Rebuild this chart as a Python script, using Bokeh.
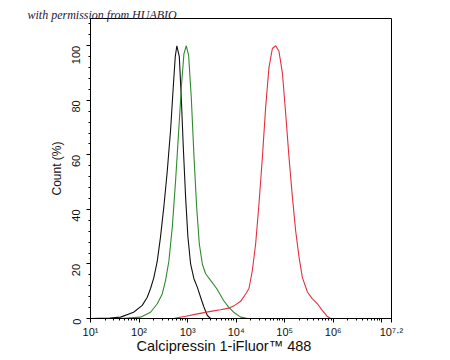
import math
from bokeh.plotting import figure
from bokeh.models import FixedTicker, Range1d, Title
from bokeh.embed import file_html
from bokeh.resources import INLINE

# x values are log10(fluorescence intensity); y values are Count (%)
black_x = [1.0, 1.40, 1.619, 1.887, 2.066, 2.169, 2.237, 2.305, 2.375, 2.443, 2.511, 2.581,
           2.649, 2.705, 2.746, 2.779, 2.829, 2.870, 2.911, 2.959, 3.006, 3.062, 3.130,
           3.200, 3.268, 3.336, 3.406, 3.474]
black_y = [0.0, 0.2, 0.5, 2.3, 4.8, 7.8, 11.0, 15.0, 21.0, 30.0, 41.0, 54.0,
           69.0, 85.0, 96.0, 100.0, 96.0, 81.0, 63.0, 44.5, 30.0, 20.0, 14.6,
           11.5, 7.8, 4.2, 1.1, 0.0]

green_x = [1.619, 2.031, 2.237, 2.375, 2.478, 2.546, 2.614, 2.685, 2.753, 2.821, 2.876,
           2.924, 2.973, 3.021, 3.076, 3.130, 3.186, 3.241, 3.303, 3.371, 3.474, 3.598,
           3.742, 3.845, 3.948, 4.093, 4.237]
green_y = [0.0, 0.5, 2.3, 5.4, 9.0, 14.0, 21.0, 33.5, 50.6, 70.0, 86.0,
           97.0, 100.0, 96.5, 81.0, 60.0, 41.0, 27.4, 20.0, 16.4, 14.0, 11.0,
           6.6, 4.2, 2.3, 0.5, 0.0]

red_x = [2.711, 2.959, 3.206, 3.474, 3.680, 3.845, 3.969, 4.093, 4.196, 4.264, 4.334,
         4.402, 4.470, 4.540, 4.608, 4.676, 4.746, 4.814, 4.882, 4.953, 5.021, 5.089,
         5.159, 5.227, 5.295, 5.365, 5.468, 5.571, 5.674, 5.777, 5.880, 5.948]
red_y = [0.0, 0.8, 1.7, 2.6, 3.2, 3.8, 4.8, 6.3, 9.0, 11.0, 17.6,
         27.4, 42.0, 59.0, 77.5, 92.0, 99.0, 100.0, 98.0, 90.0, 75.0, 59.0,
         44.5, 32.0, 22.5, 15.0, 9.7, 7.2, 5.4, 2.9, 0.7, 0.0]

x_major = [1, 2, 3, 4, 5, 6, 7, 7.2]
x_tick_labels = ["10\u00b9", "10\u00b2", "10\u00b3", "10\u2074", "10\u2075", "10\u2076", "",
                 "10\u2077\u00b7\u00b2"]
y_major = [0, 20, 40, 60, 80, 100]

x_title = "Calcipressin 1-iFluor\u2122 488"
y_title = "Count (%)"
watermark = "with permission from HUABIO"

p = figure(width=450, height=360, output_backend="svg", toolbar_location=None,
           x_range=Range1d(1, 7.2), y_range=Range1d(0, 110),
           min_border_left=90, min_border_right=59, min_border_top=18, min_border_bottom=42)
p.background_fill_color = "white"
p.border_fill_color = "white"
p.grid.visible = False
p.outline_line_color = "black"
p.outline_line_alpha = 1.0
p.outline_line_width = 1

minor_x = [n + math.log10(k) for n in range(1, 7) for k in range(2, 10)]
minor_y = [v for v in range(0, 111, 4) if v % 20 != 0]

for ax in (p.xaxis[0], p.yaxis[0]):
    ax.axis_line_color = "black"
    ax.major_tick_line_color = "black"
    ax.minor_tick_line_color = "black"
    ax.major_tick_in = 0
    ax.major_tick_out = 4
    ax.minor_tick_in = 0
    ax.minor_tick_out = 2
    ax.major_label_text_font = "Liberation Sans"
    ax.major_label_text_font_size = "11px"
    ax.major_label_text_color = "#111111"

p.xaxis.ticker = FixedTicker(ticks=x_major, minor_ticks=minor_x)
p.xaxis.major_label_overrides = dict(zip(x_major, x_tick_labels))
p.xaxis.major_label_standoff = 3

p.yaxis.ticker = FixedTicker(ticks=y_major, minor_ticks=minor_y)
p.yaxis.major_label_orientation = math.pi / 2
p.yaxis.major_label_standoff = 10
p.yaxis.axis_label = y_title
p.yaxis.axis_label_text_font = "Liberation Sans"
p.yaxis.axis_label_text_font_size = "12px"
p.yaxis.axis_label_text_font_style = "normal"
p.yaxis.axis_label_text_color = "#111111"
p.yaxis.axis_label_standoff = 2

p.line(black_x, black_y, line_color="#111111", line_width=1.1)
p.line(green_x, green_y, line_color="#2f8a2f", line_width=1.1)
p.line(red_x, red_y, line_color="#e3303f", line_width=1.1)

p.add_layout(Title(text=x_title, align="left", offset=46, standoff=-10,
                   text_font="Liberation Sans", text_font_size="14.5px",
                   text_font_style="normal", text_color="#111111"), "below")

p.add_layout(Title(text=watermark, align="left", offset=-63, standoff=-6,
                   text_font="Liberation Serif", text_font_size="12px",
                   text_font_style="italic", text_color="#22223a"), "above")

open("out.html", "w").write(file_html(p, INLINE))
